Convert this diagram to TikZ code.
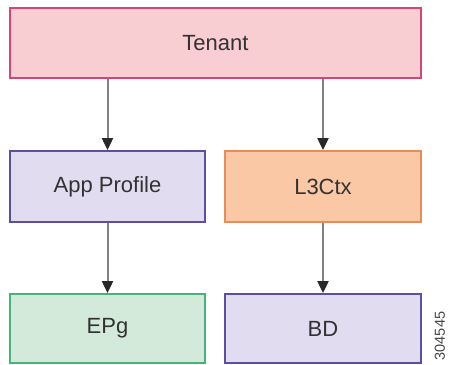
\documentclass[tikz,border=0pt]{standalone}
\usepackage{fontspec}
\setmainfont{Liberation Sans}
\usetikzlibrary{arrows.meta}
\definecolor{tenfill}{RGB}{248,206,211}
\definecolor{tendraw}{RGB}{212,70,120}
\definecolor{purfill}{RGB}{225,220,240}
\definecolor{purdraw}{RGB}{92,78,160}
\definecolor{orfill}{RGB}{250,200,165}
\definecolor{ordraw}{RGB}{232,140,90}
\definecolor{grfill}{RGB}{211,234,218}
\definecolor{grdraw}{RGB}{70,180,120}
\definecolor{txt}{RGB}{50,50,50}
\tikzset{
  box/.style={rectangle, line width=1.8pt, text=txt, font=\fontsize{22}{24}\selectfont, inner sep=0pt},
  conn/.style={draw={rgb,255:red,130;green,130;blue,130}, line width=2pt,
    -{Triangle[width=11pt,length=12pt,color={rgb,255:red,40;green,40;blue,40}]}}
}
\begin{document}
\begin{tikzpicture}[x=1pt,y=-1pt]
\useasboundingbox (0,0) rectangle (455,364);
\node[box, draw=tendraw, fill=tenfill, minimum width=411pt, minimum height=70pt] (ten) at (215.5,43) {Tenant};
\node[box, draw=purdraw, fill=purfill, minimum width=195pt, minimum height=71pt] (app) at (107.5,186.5) {App Profile};
\node[box, draw=ordraw, fill=orfill, minimum width=196pt, minimum height=71pt] (l3) at (323,186.5) {L3Ctx};
\node[box, draw=grdraw, fill=grfill, minimum width=195pt, minimum height=69pt] (epg) at (107.5,328.5) {EPg};
\node[box, draw=purdraw, fill=purfill, minimum width=196pt, minimum height=69pt] (bd) at (323,328.5) {BD};
\draw[conn] (app.north |- ten.south) -- (app.north);
\draw[conn] (l3.north |- ten.south) -- (l3.north);
\draw[conn] (app.south) -- (epg.north);
\draw[conn] (l3.south) -- (bd.north);
\node[rotate=90, text={rgb,255:red,70;green,70;blue,70}, font=\fontsize{14.5}{14.5}\selectfont, inner sep=0pt] (num) at (440,336) {304545};
\end{tikzpicture}
\end{document}
